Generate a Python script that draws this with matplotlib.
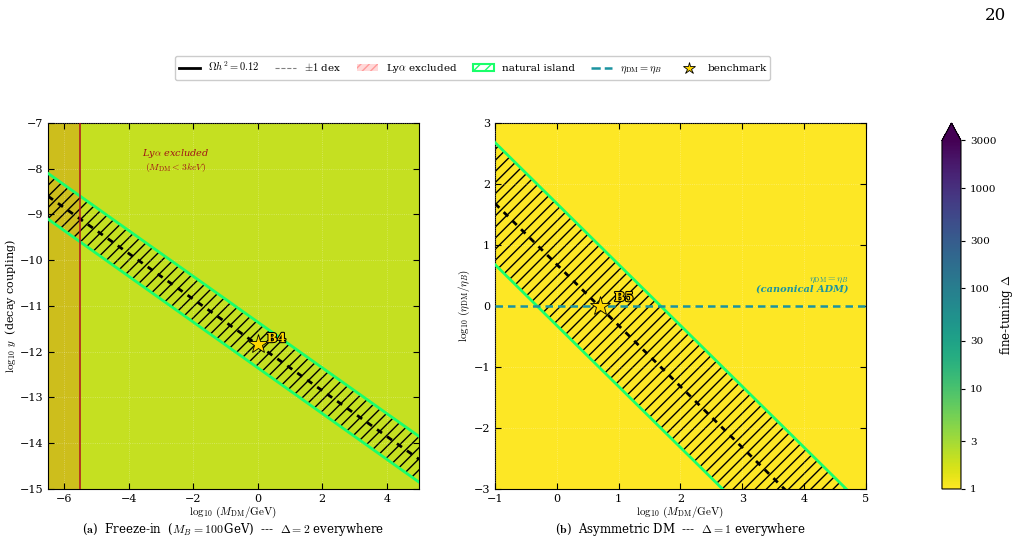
import numpy as np
import matplotlib
matplotlib.use('Agg')
import matplotlib.pyplot as plt
import matplotlib.patheffects as pe
from matplotlib.colors import LogNorm
from matplotlib.patches import Patch
from matplotlib.lines import Line2D

plt.rcParams['font.family'] = 'DejaVu Serif'
plt.rcParams['mathtext.fontset'] = 'cm'
plt.rcParams['xtick.direction'] = 'in'
plt.rcParams['ytick.direction'] = 'in'
plt.rcParams['xtick.top'] = True
plt.rcParams['ytick.right'] = True

# (a) freeze-in panel
fi_xlim = [-6.5, 5.0]
fi_ylim = [-15.0, -7.0]
fi_delta = 2.0
fi_logm = [-6.5, 5.0]
fi_center = [-8.6, -14.35]   # Omega h^2 = 0.12
fi_upper = [-8.1, -13.85]
fi_lower = [-9.1, -14.85]
fi_lya_cut = -5.5            # M_DM < 3 keV
fi_bench = (0.0, -11.83)
fi_bench_name = 'B4'

# (b) asymmetric DM panel
adm_xlim = [-1.0, 5.0]
adm_ylim = [-3.0, 3.0]
adm_delta = 1.0
adm_logm = [-1.0, 5.0]
adm_center = [1.68, -4.32]
adm_upper = [2.68, -3.32]
adm_lower = [0.68, -5.32]
adm_eta_equal = 0.0
adm_bench = (0.70, 0.0)
adm_bench_name = 'B5'

cbar_ticks = [1, 3, 10, 30, 100, 300, 1000, 3000]

norm = LogNorm(vmin=1, vmax=3000)
cmap = 'viridis_r'
green = '#1aff6a'
teal = '#1b93a0'

fig = plt.figure(figsize=(10.21, 5.39), dpi=100)
axa = fig.add_axes([0.047, 0.0928, 0.3634, 0.679])
axb = fig.add_axes([0.4848, 0.0928, 0.3634, 0.679])
cax = fig.add_axes([0.9226, 0.0928, 0.0186, 0.679])


def island(ax, xs, center, upper, lower):
    ax.fill_between(xs, lower, upper, facecolor='none', edgecolor='black',
                    hatch='///', linewidth=0, zorder=2)
    ax.plot(xs, upper, color=green, lw=2, zorder=3)
    ax.plot(xs, lower, color=green, lw=2, zorder=3)
    ax.plot(xs, center, color='black', lw=2, ls=(0, (2.2, 2.2)), zorder=4)


def bench(ax, pt, name, dx, dy):
    ax.plot(pt[0], pt[1], marker='*', ms=15, color='gold',
            markeredgecolor='black', markeredgewidth=0.6, zorder=6)
    ax.text(pt[0] + dx, pt[1] + dy, name, fontsize=9, fontweight='bold',
            color='gold', zorder=7,
            path_effects=[pe.withStroke(linewidth=1.5, foreground='black')])


def style(ax, xlim, ylim):
    ax.set_xlim(xlim)
    ax.set_ylim(ylim)
    ax.tick_params(labelsize=8, length=4, width=0.8)
    ax.grid(True, color='white', alpha=0.35, ls=':', lw=0.6)
    ax.set_axisbelow(False)


# panel (a)
mesh = axa.pcolormesh(fi_xlim, fi_ylim, np.full((1, 1), fi_delta),
                      cmap=cmap, norm=norm, shading='flat', zorder=0)
axa.axvspan(fi_xlim[0], fi_lya_cut, color='red', alpha=0.15, lw=0, zorder=1)
axa.axvline(fi_lya_cut, color='#b01020', lw=1.1, zorder=5)
island(axa, fi_logm, fi_center, fi_upper, fi_lower)
bench(axa, fi_bench, fi_bench_name, 0.28, 0.04)
axa.text(-2.55, -7.82, 'Ly$\\alpha$ excluded\n$(M_{\\rm DM} < 3 keV)$',
         fontsize=7, color='#a01515', style='italic', ha='center', va='center')
style(axa, fi_xlim, fi_ylim)
axa.set_xticks(np.arange(-6, 5, 2))
axa.set_yticks(np.arange(-15, -6, 1))
axa.set_xlabel(r'$\log_{10}\,(M_{\rm DM}/{\rm GeV})$', fontsize=8, labelpad=0.5)
axa.set_ylabel(r'$\log_{10}\,y$  (decay coupling)', fontsize=8, labelpad=1)

# panel (b)
axb.pcolormesh(adm_xlim, adm_ylim, np.full((1, 1), adm_delta),
               cmap=cmap, norm=norm, shading='flat', zorder=0)
island(axb, adm_logm, adm_center, adm_upper, adm_lower)
axb.axhline(adm_eta_equal, color=teal, lw=1.8, ls=(0, (3, 2)), zorder=5)
bench(axb, adm_bench, adm_bench_name, 0.23, 0.08)
axb.text(4.72, 0.20, '$\\eta_{\\rm DM}=\\eta_B$\n(canonical ADM)', fontsize=7,
         color=teal, fontweight='bold', style='italic', ha='right', va='bottom',
         linespacing=1.0)
style(axb, adm_xlim, adm_ylim)
axb.set_xticks(np.arange(-1, 6, 1))
axb.set_yticks(np.arange(-3, 4, 1))
axb.set_xlabel(r'$\log_{10}\,(M_{\rm DM}/{\rm GeV})$', fontsize=8, labelpad=0.5)
axb.set_ylabel(r'$\log_{10}\,(\eta_{\rm DM}/\eta_B)$', fontsize=8, labelpad=1)

fig.text(0.228, 0.017,
         r'($\mathbf{a}$)  Freeze-in  ($M_B = 100\,$GeV)  ---  $\Delta = 2$ everywhere',
         fontsize=8.5, ha='center', va='center')
fig.text(0.666, 0.017,
         r'($\mathbf{b}$)  Asymmetric DM  ---  $\Delta = 1$ everywhere',
         fontsize=8.5, ha='center', va='center')

# colorbar
cb = fig.colorbar(mesh, cax=cax, extend='max')
cb.set_ticks(cbar_ticks)
cb.set_ticklabels([str(t) for t in cbar_ticks])
cb.ax.minorticks_off()
cb.ax.tick_params(labelsize=7.5, direction='out', length=3)
cb.set_label(r'fine-tuning $\Delta$', fontsize=8.5, labelpad=1)

# shared legend
handles = [
    Line2D([], [], color='black', lw=2),
    Line2D([], [], color='gray', lw=0.8, ls='--'),
    Patch(facecolor=(1, 0, 0, 0.15), edgecolor=(1, 0.5, 0.5, 0.7), hatch='////', lw=0),
    Patch(facecolor='white', edgecolor=green, hatch='///', lw=1.5),
    Line2D([], [], color=teal, lw=1.8, ls='--'),
    Line2D([], [], marker='*', color='gold', markeredgecolor='black',
           markeredgewidth=0.6, ls='none', ms=9),
]
labels = [r'$\Omega h^2 = 0.12$', r'$\pm1$ dex', r'Ly$\alpha$ excluded',
          'natural island', r'$\eta_{\rm DM} = \eta_B$', 'benchmark']
fig.legend(handles, labels, loc='center', bbox_to_anchor=(0.463, 0.874),
           ncol=6, fontsize=7.5, frameon=True, handlelength=2.0,
           columnspacing=1.5, borderpad=0.35, framealpha=1, edgecolor='#cccccc')

fig.text(0.985, 0.972, '20', fontsize=12, ha='right', va='center')

fig.savefig('out.png', dpi=100)
